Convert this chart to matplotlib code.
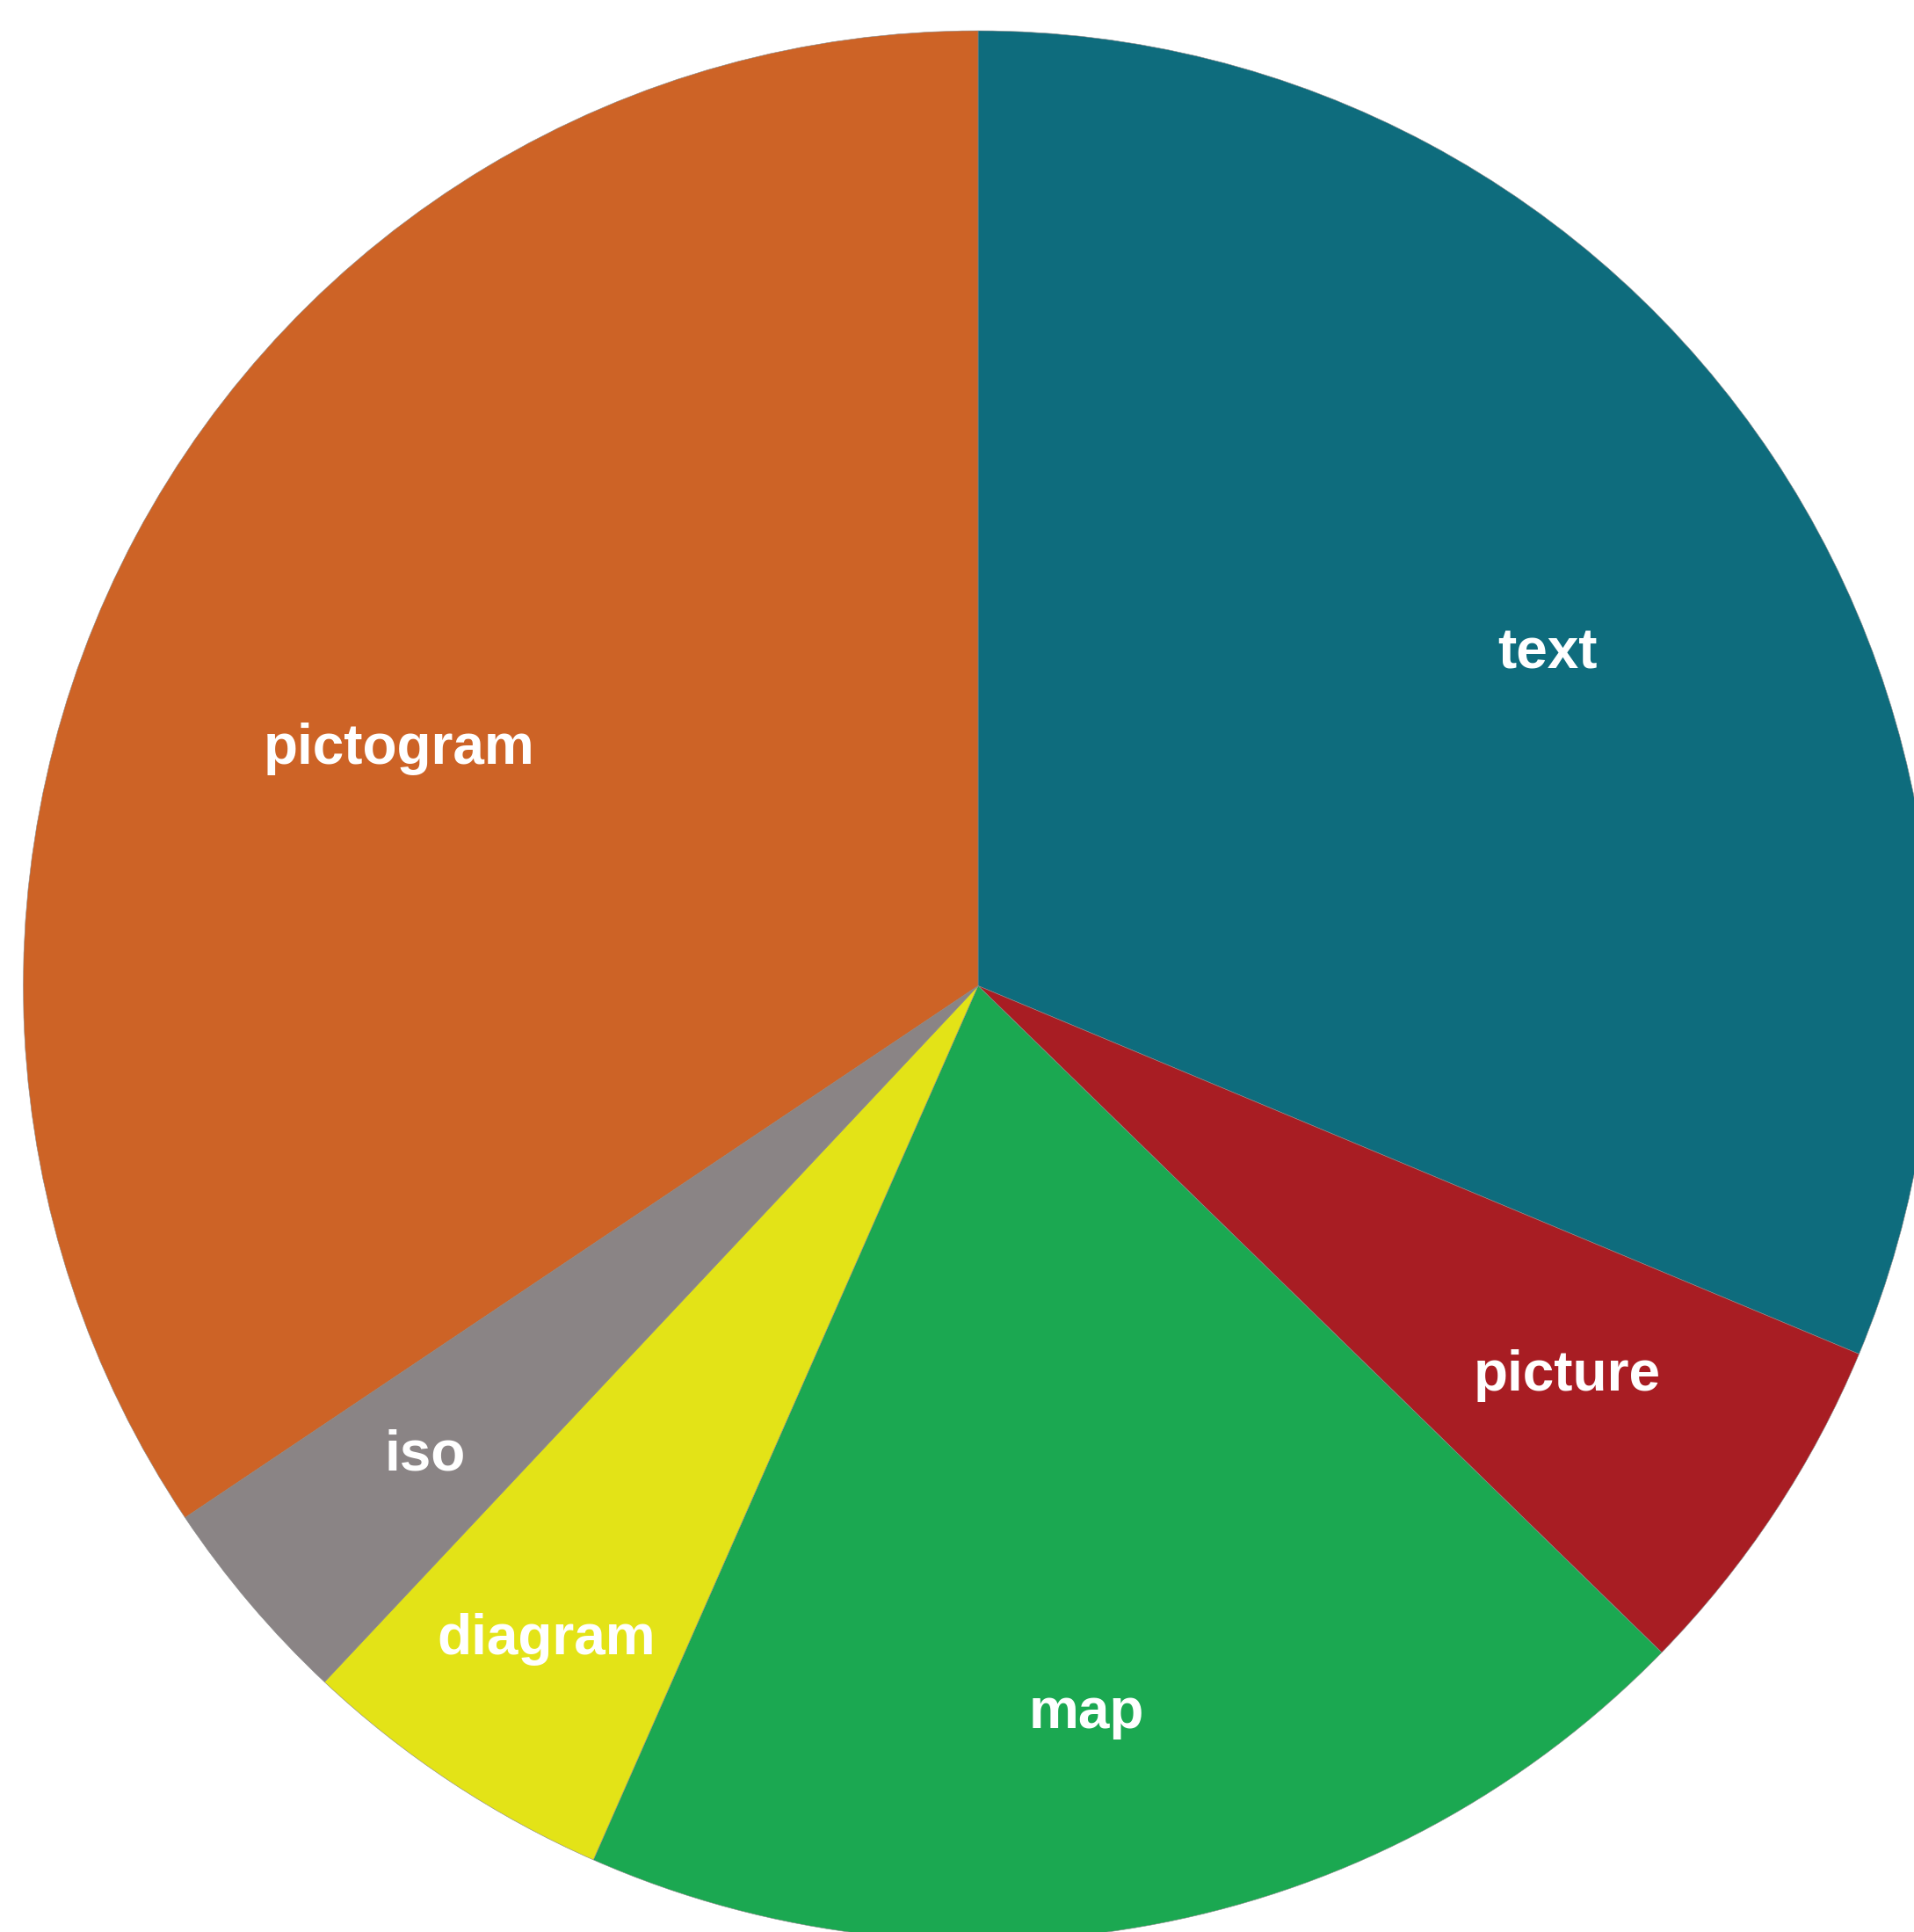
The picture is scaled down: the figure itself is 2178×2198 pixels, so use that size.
import numpy as np
import matplotlib
matplotlib.use("Agg")
import matplotlib.pyplot as plt

# slice shares (percent), clockwise from 12 o'clock
labels = ["text", "picture", "map", "diagram", "iso", "pictogram"]
shares = [31.3, 6.0, 19.3, 5.4, 3.6, 34.4]
colors = ["#0E6C7D", "#A81D23", "#1BA851", "#E3E317", "#8A8485", "#CD6326"]

# label placement (fraction of radius, angle nudge in degrees)
label_r = [0.69, 0.74, 0.77, 0.82, 0.76, 0.655]
label_nudge = [-3.4, 0.0, -2.5, 0.0, 0.0, 5.8]

W, H = 2178, 2198
fig = plt.figure(figsize=(W / 100, H / 100), dpi=100)
ax = fig.add_axes([0, 0, 1, 1])

cx, cy, R = 1113, H - 1121.5, 1086.5
wedges, _ = ax.pie(shares, colors=colors, startangle=90, counterclock=False,
                   center=(cx, cy), radius=R,
                   wedgeprops=dict(linewidth=0.4, edgecolor="#888888"))

for w, lab, rf, dn in zip(wedges, labels, label_r, label_nudge):
    mid = np.deg2rad((w.theta1 + w.theta2) / 2 + dn)
    ax.text(cx + rf * R * np.cos(mid), cy + rf * R * np.sin(mid), lab,
            ha="center", va="center", color="white", fontsize=46,
            fontweight="bold", family="Liberation Sans")

ax.set_xlim(0, W)
ax.set_ylim(0, H)
ax.set_aspect("equal")
ax.axis("off")

fig.savefig("out.png", dpi=100)
